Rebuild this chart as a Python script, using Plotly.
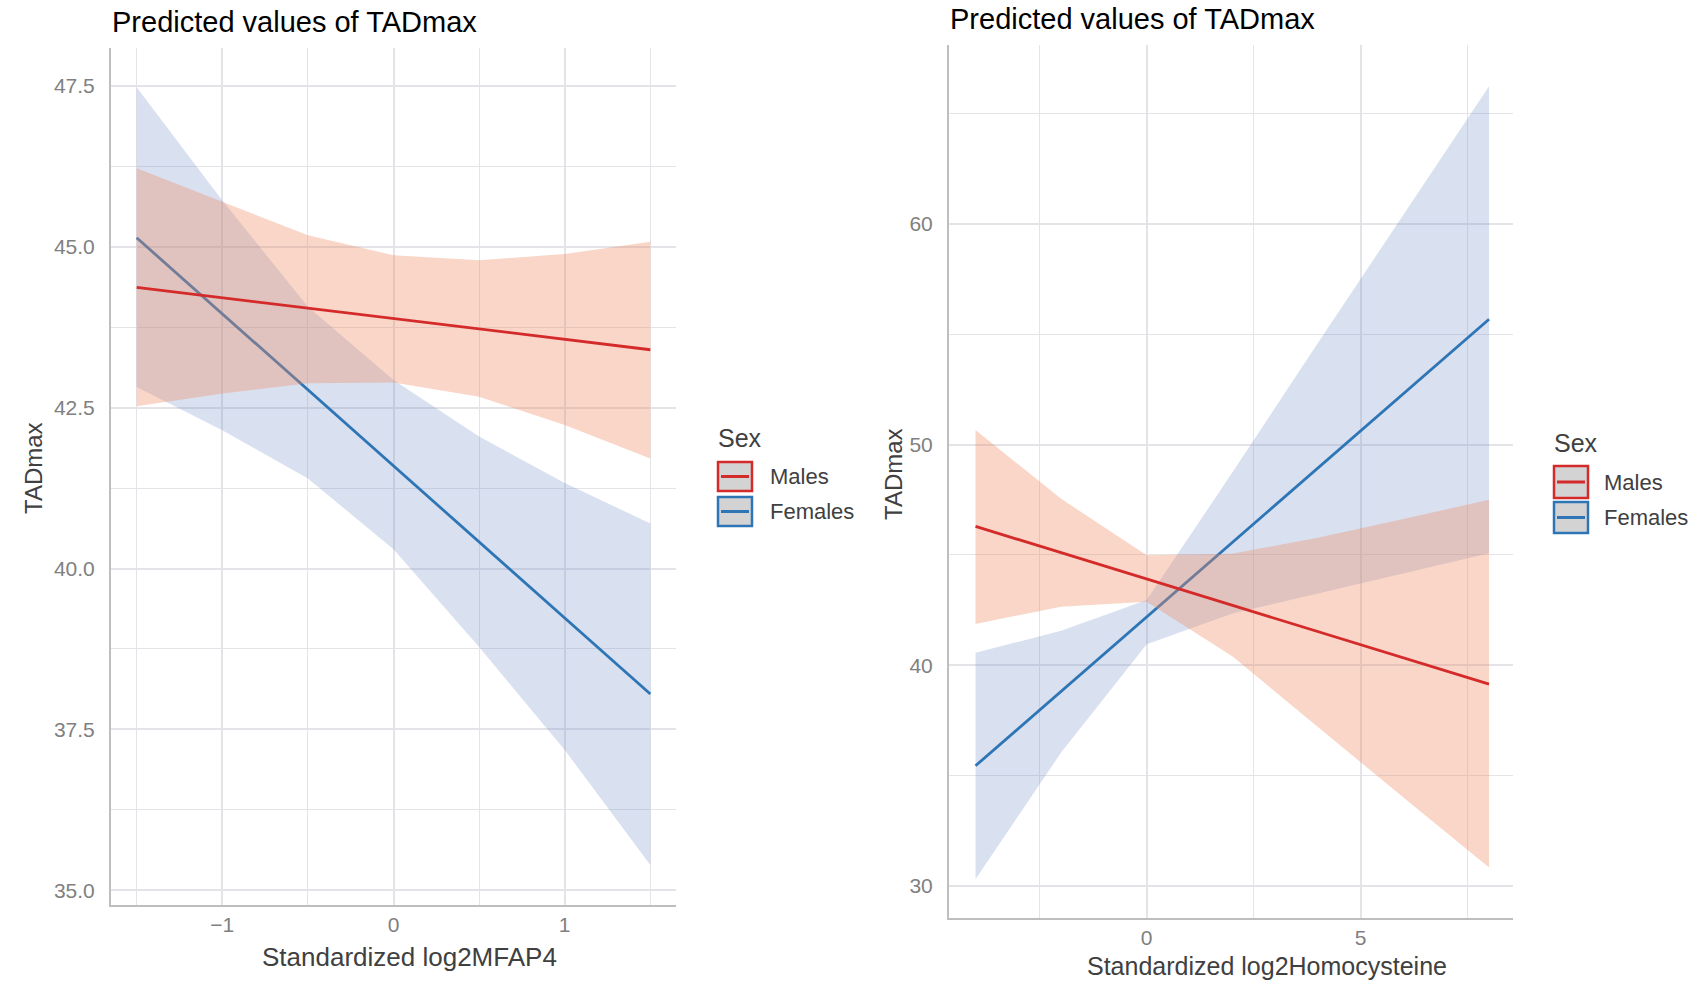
import plotly.graph_objects as go

# ---------------- data ----------------
# Left panel: Standardized log2MFAP4
mfap4_x = [-1.5, -1.0, -0.5, 0.0, 0.5, 1.0, 1.5]
mfap4_male_fit = [44.37, 44.21, 44.05, 43.89, 43.72, 43.56, 43.40]
mfap4_male_hi = [46.22, 45.70, 45.18, 44.87, 44.79, 44.89, 45.08]
mfap4_male_lo = [42.52, 42.72, 42.88, 42.89, 42.67, 42.23, 41.71]
mfap4_female_fit = [45.14, 43.96, 42.78, 41.60, 40.42, 39.24, 38.05]
mfap4_female_hi = [47.48, 45.72, 44.07, 42.93, 42.05, 41.33, 40.70]
mfap4_female_lo = [42.82, 42.15, 41.40, 40.30, 38.78, 37.18, 35.39]

# Right panel: Standardized log2Homocysteine
hcy_x = [-4, -2, 0, 2, 4, 6, 8]
hcy_male_fit = [46.29, 45.10, 43.91, 42.72, 41.52, 40.33, 39.14]
hcy_male_hi = [50.66, 47.54, 44.98, 45.05, 45.78, 46.62, 47.50]
hcy_male_lo = [41.87, 42.65, 42.87, 40.40, 37.20, 34.00, 30.83]
hcy_female_fit = [35.44, 38.81, 42.19, 45.56, 48.93, 52.31, 55.68]
hcy_female_hi = [40.56, 41.56, 42.95, 48.73, 54.60, 60.45, 66.24]
hcy_female_lo = [30.30, 36.04, 40.95, 42.34, 43.24, 44.15, 45.07]

groups = ["Males", "Females"]
title_text = "Predicted values of TADmax"
legend_title = "Sex"

# ---------------- styles ----------------
W, H = 1699, 983
RED = "#D42A2A"
BLUE = "#2E75B6"
RED_FILL = "rgba(239,138,98,0.35)"
BLUE_FILL = "rgba(116,140,200,0.27)"
GRID = "#E4E4E8"
AXLINE = "#BEBEBE"
FONT = "Liberation Sans, Arial, sans-serif"


def px(x):
    return x / W


def py(y):
    return 1 - y / H


fig = go.Figure()


def add_panel(xs, fit_m, hi_m, lo_m, fit_f, hi_f, lo_f, xa, ya):
    # females band + line first, then males band + line
    for fit, hi, lo, col, fill in [
        (fit_f, hi_f, lo_f, BLUE, BLUE_FILL),
        (fit_m, hi_m, lo_m, RED, RED_FILL),
    ]:
        fig.add_trace(go.Scatter(
            x=list(xs) + list(xs)[::-1], y=list(hi) + list(lo)[::-1],
            fill="toself", fillcolor=fill, line=dict(width=0),
            mode="lines", hoverinfo="skip", showlegend=False,
            xaxis=xa, yaxis=ya))
        fig.add_trace(go.Scatter(
            x=xs, y=fit, mode="lines", line=dict(color=col, width=2.8),
            showlegend=False, xaxis=xa, yaxis=ya))


add_panel(mfap4_x, mfap4_male_fit, mfap4_male_hi, mfap4_male_lo,
          mfap4_female_fit, mfap4_female_hi, mfap4_female_lo, "x", "y")
add_panel(hcy_x, hcy_male_fit, hcy_male_hi, hcy_male_lo,
          hcy_female_fit, hcy_female_hi, hcy_female_lo, "x2", "y2")

tickfont = dict(family=FONT, size=21, color="#808080")


def xaxis(domain, rng, dtick, minor, anchor):
    return dict(domain=domain, range=rng, dtick=dtick, tick0=0,
                showgrid=True, gridcolor=GRID, gridwidth=1.5,
                minor=dict(dtick=minor, tick0=0, showgrid=True,
                           gridcolor=GRID, gridwidth=1.2),
                zeroline=False, showline=True, linecolor=AXLINE, linewidth=2,
                ticks="", ticklabelstandoff=0, tickfont=tickfont,
                anchor=anchor, automargin=False, fixedrange=True)


def yaxis(domain, rng, dtick, minor, fmt, anchor):
    return dict(domain=domain, range=rng, dtick=dtick, tick0=0,
                tickformat=fmt,
                showgrid=True, gridcolor=GRID, gridwidth=1.5,
                minor=dict(dtick=minor, tick0=0, showgrid=True,
                           gridcolor=GRID, gridwidth=1.2),
                zeroline=False, showline=True, linecolor=AXLINE, linewidth=2,
                ticks="", ticklabelstandoff=10, tickfont=tickfont,
                anchor=anchor, automargin=False, fixedrange=True)


fig.update_layout(
    width=W, height=H,
    margin=dict(l=0, r=0, t=0, b=0),
    paper_bgcolor="white", plot_bgcolor="white",
    showlegend=False,
    font=dict(family=FONT),
    xaxis=xaxis([px(111), px(676)], [-1.65, 1.65], 1, 0.5, "y"),
    yaxis=yaxis([py(905), py(48)], [34.77, 48.09], 2.5, 1.25, ".1f", "x"),
    xaxis2=xaxis([px(949), px(1513)], [-4.62, 8.56], 5, 2.5, "y2"),
    yaxis2=yaxis([py(918), py(45)], [28.54, 68.11], 10, 5, "d", "x2"),
)

ann = []


def text(x, y, s, size, color, xanchor="center", angle=0):
    ann.append(dict(x=px(x), y=py(y), xref="paper", yref="paper", text=s,
                    showarrow=False, xanchor=xanchor, yanchor="middle",
                    textangle=angle,
                    font=dict(family=FONT, size=size, color=color)))


# titles
text(110, 22, title_text, 29, "#000000", xanchor="left")
text(948, 19, title_text, 29, "#000000", xanchor="left")
# axis titles
text(409, 957, "Standardized log2MFAP4", 26, "#404040")
text(1267, 966, "Standardized log2Homocysteine", 25, "#404040")
text(33, 468, "TADmax", 24, "#404040", angle=-90)
text(893, 474, "TADmax", 24, "#404040", angle=-90)

shapes = []


def legend(x0, title_y, boxes, text_x):
    text(x0 - 1, title_y, legend_title, 25, "#404040", xanchor="left")
    for (y0, y1), name, col in zip(boxes, groups, [RED, BLUE]):
        shapes.append(dict(type="rect", xref="paper", yref="paper",
                           x0=px(x0 + 1), x1=px(x0 + 35), y0=py(y1 - 1), y1=py(y0 + 1),
                           fillcolor="#D3D3D3", line=dict(color=col, width=2.5)))
        ym = (y0 + y1) / 2
        shapes.append(dict(type="line", xref="paper", yref="paper",
                           x0=px(x0 + 4), x1=px(x0 + 32), y0=py(ym), y1=py(ym),
                           line=dict(color=col, width=3)))
        text(text_x, ym, name, 22, "#404040", xanchor="left")


legend(717, 438, [(461, 492), (496, 527)], 768)
legend(1553, 443, [(465, 499), (501, 534)], 1602)

fig.update_layout(annotations=ann, shapes=shapes)
# remove the browser's default 8px body margin so the figure fills the window
fig.write_html("out.html",
               config={"displayModeBar": False},
               post_script="document.body.style.margin='0px';"
                           "document.body.style.overflow='hidden';")
